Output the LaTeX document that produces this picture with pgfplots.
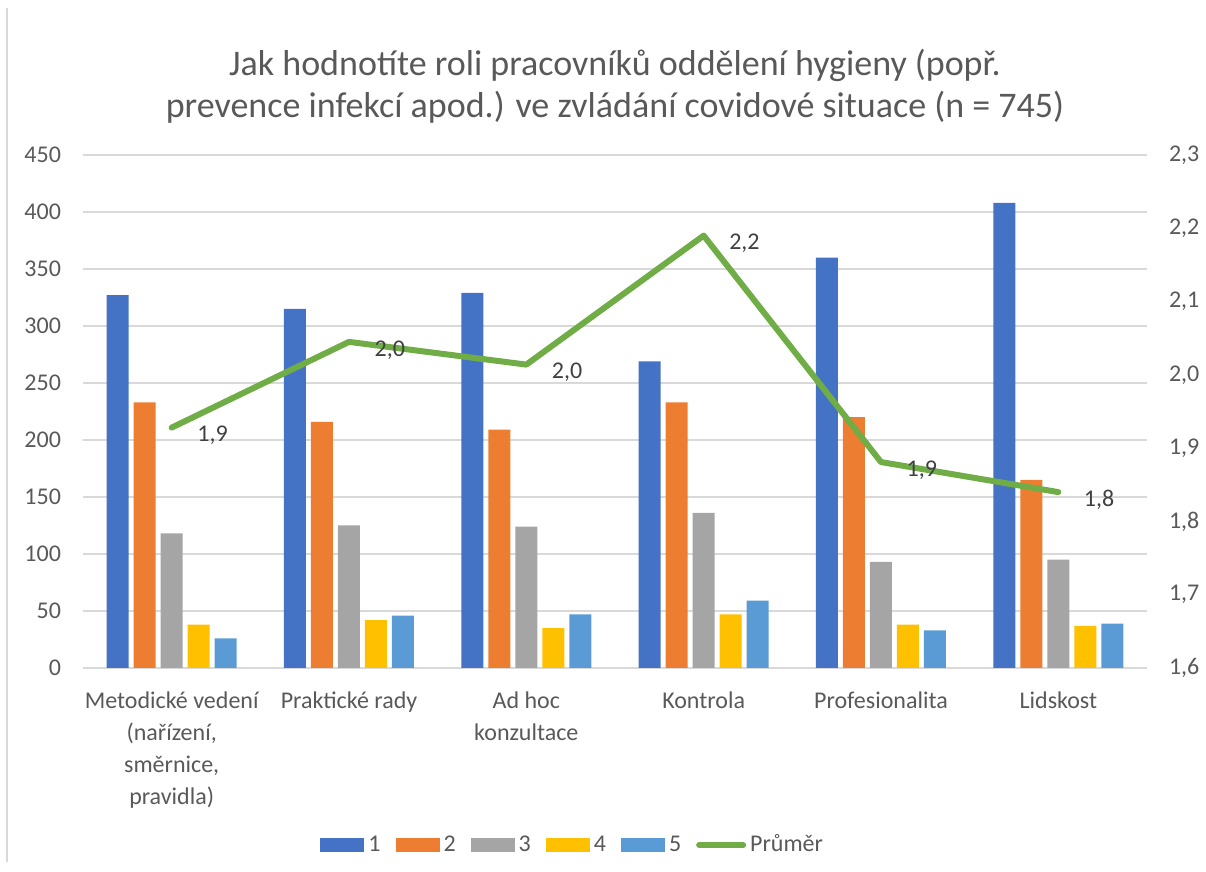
\documentclass[border=0pt]{standalone}
\usepackage{fontspec}
\setmainfont{Carlito}
\usepackage{pgfplots}
\pgfplotsset{compat=1.18}
\definecolor{c1}{HTML}{4472C4}
\definecolor{c2}{HTML}{ED7D31}
\definecolor{c3}{HTML}{A5A5A5}
\definecolor{c4}{HTML}{FFC000}
\definecolor{c5}{HTML}{5B9BD5}
\definecolor{cavg}{HTML}{70AD47}
\definecolor{gridgray}{HTML}{D9D9D9}
\definecolor{txtgray}{HTML}{595959}
\definecolor{lblgray}{HTML}{404040}

\pgfplotsset{
  /pgf/number format/assume math mode=true,
  common/.style={
    at={(0pt,0pt)}, anchor=south west,
    scale only axis, width=532pt, height=256.5pt,
    xmin=-0.5, xmax=5.5,
    axis line style={draw=none},
    tick style={draw=none},
    ticklabel style={font=\fontsize{12}{14}\selectfont, text=txtgray},
  },
  barlegend/.style={legend image code/.code={\fill[##1] (0pt,-3.5pt) rectangle (22pt,3.5pt);}},
  linelegend/.style={legend image code/.code={\draw[##1] (0pt,0pt) -- (22pt,0pt);}},
}

\begin{document}
\begin{tikzpicture}
\useasboundingbox (-41.5pt,-102pt) rectangle (561.5pt,334pt);
\draw[gridgray, line width=0.8pt] (-38pt,-97pt) -- (-38pt,330pt);

\node[align=center, font=\fontsize{18}{21}\selectfont, text=txtgray] at (266pt,291pt)
  {Jak hodnotíte roli pracovníků oddělení hygieny (popř.\\prevence infekcí apod.) ve zvládání covidové situace (n = 745)};

\begin{axis}[common,
  ymin=0, ymax=450, ytick={0,50,...,450},
  ymajorgrids, grid style={gridgray, line width=0.8pt},
  yticklabel style={xshift=-7.5pt},
  ybar=2.5pt, bar width=11pt,
  xtick={0,1,2,3,4,5},
  xticklabels={{Metodické vedení\\(nařízení,\\směrnice,\\pravidla)}, Praktické rady, {Ad hoc\\konzultace}, Kontrola, Profesionalita, Lidskost},
  xticklabel style={align=center, font=\fontsize{12}{16}\selectfont, text=txtgray, yshift=-4pt},
]
\addplot[fill=c1, draw=none] coordinates {(0,327) (1,315) (2,329) (3,269) (4,360) (5,408)};
\addplot[fill=c2, draw=none] coordinates {(0,233) (1,216) (2,209) (3,233) (4,220) (5,165)};
\addplot[fill=c3, draw=none] coordinates {(0,118) (1,125) (2,124) (3,136) (4,93) (5,95)};
\addplot[fill=c4, draw=none] coordinates {(0,38) (1,42) (2,35) (3,47) (4,38) (5,37)};
\addplot[fill=c5, draw=none] coordinates {(0,26) (1,46) (2,47) (3,59) (4,33) (5,39)};
\end{axis}

\begin{axis}[common,
  ymin=1.6, ymax=2.3, ytick={1.6,1.7,1.8,1.9,2.0,2.1,2.2,2.3},
  xtick=\empty,
  yticklabel pos=right,
  yticklabel style={anchor=west, xshift=7.5pt},
  /pgf/number format/.cd, fixed, fixed zerofill, precision=1, use comma,
  /pgfplots/.cd,
  legend columns=6,
  legend style={at={(0.2227,-0.345)}, anchor=west, draw=none, fill=none, inner sep=0pt,
    font=\fontsize{12}{14}\selectfont, text=txtgray,
    /tikz/every even column/.append style={column sep=5.5pt}},
]
\addlegendimage{barlegend, fill=c1, draw=none}
\addlegendimage{barlegend, fill=c2, draw=none}
\addlegendimage{barlegend, fill=c3, draw=none}
\addlegendimage{barlegend, fill=c4, draw=none}
\addlegendimage{barlegend, fill=c5, draw=none}
\addplot[cavg, line width=3pt, line join=round, line cap=round, linelegend,
  nodes near coords,
  every node near coord/.style={anchor=west, xshift=8pt, yshift=-4pt,
    font=\fontsize{12}{14}\selectfont, text=lblgray}]
  coordinates {(0,1.928) (1,2.045) (2,2.014) (3,2.190) (4,1.881) (5,1.840)};
\legend{1,2,3,4,5,Průměr}
\end{axis}
\end{tikzpicture}
\end{document}
